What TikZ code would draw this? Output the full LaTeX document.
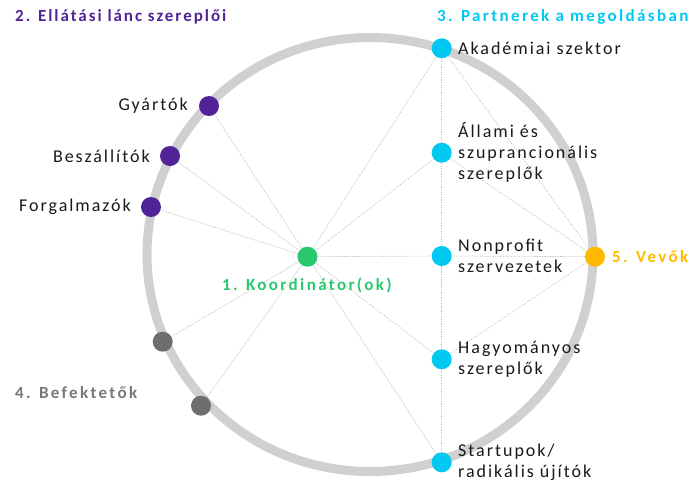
\documentclass[tikz,border=0pt]{standalone}
\usepackage{fontspec}
\setmainfont{Carlito}
\newfontfamily\labfont{Carlito}[LetterSpace=11.0]
\newfontfamily\headfont{Carlito}[LetterSpace=14.0]
\newfontfamily\headnarrow{Carlito}[LetterSpace=11.5]
\definecolor{cpurple}{RGB}{80,36,150}
\definecolor{ccyan}{RGB}{0,200,240}
\definecolor{cgreen}{RGB}{42,200,110}
\definecolor{corange}{RGB}{255,186,0}
\definecolor{cgraydot}{RGB}{110,110,110}
\definecolor{cgraytext}{RGB}{120,120,120}
\definecolor{cring}{RGB}{208,208,208}
\definecolor{cline}{RGB}{190,190,190}
\definecolor{ctext}{RGB}{25,25,25}
\begin{document}
\begin{tikzpicture}[x=1pt,y=-1pt,
  dot/.style={circle,inner sep=0pt,minimum size=20pt,draw=none},
  conn/.style={draw=cline,line width=0.65pt,dash pattern=on 1.3pt off 1.3pt},
  lab/.style={inner sep=0pt,align=left,text=ctext,font=\labfont\fontsize{18}{21}\selectfont},
  head/.style={inner sep=0pt,font=\headfont\bfseries\fontsize{17}{20}\selectfont}]
\useasboundingbox (0,0) rectangle (691,483);
\draw[line width=9pt,cring] (370,254.5) ellipse [x radius=223pt, y radius=217pt];
% dots
\node[dot,fill=cpurple] (gy) at (209,106) {};
\node[dot,fill=cpurple] (be) at (170,156) {};
\node[dot,fill=cpurple] (fo) at (151,207) {};
\node[dot,fill=cgreen] (ko) at (307.5,256.7) {};
\node[dot,fill=ccyan] (ak) at (441.7,48.3) {};
\node[dot,fill=ccyan] (al) at (441.7,152.7) {};
\node[dot,fill=ccyan] (np) at (441.7,256) {};
\node[dot,fill=ccyan] (ha) at (441.7,359.3) {};
\node[dot,fill=ccyan] (st) at (441.7,462.3) {};
\node[dot,fill=corange] (ve) at (595,256.7) {};
\node[dot,fill=cgraydot] (g1) at (162.7,341.7) {};
\node[dot,fill=cgraydot] (g2) at (201,405.7) {};
% connectors
\foreach \t in {gy,be,fo,ak,al,np,ha,st,g1,g2} \draw[conn] (ko) -- (\t);
\draw[conn] (ak) -- (al);
\draw[conn] (al) -- (np);
\draw[conn] (np) -- (ha);
\draw[conn] (ha) -- (st);
\foreach \t in {ak,al,np,ha} \draw[conn] (ve) -- (\t);
% labels
\node[lab,anchor=east] (tgy) at (188,106) {Gyártók};
\node[lab,anchor=east] (tbe) at (150,156) {Beszállítók};
\node[lab,anchor=east] (tfo) at (131,207) {Forgalmazók};
\node[lab,anchor=west] (tak) at (458,48.3) {Akadémiai szektor};
\node[lab,anchor=west] (tal) at (458,152.7) {Állami és\\szuprancionális\\szereplők};
\node[lab,anchor=west] (tnp) at (458,256) {Nonprofit\\szervezetek};
\node[lab,anchor=west] (tha) at (458,359.3) {Hagyományos\\szereplők};
\node[lab,anchor=west] (tst) at (458,462.3) {Startupok/\\radikális újítók};
% headings
\node[head,font=\headnarrow\bfseries\fontsize{17}{20}\selectfont,text=cpurple,anchor=west] (h2) at (15,17) {2. Ellátási lánc szereplői};
\node[head,text=ccyan,anchor=west] (h3) at (437,17) {3. Partnerek a megoldásban};
\node[head,text=cgreen,anchor=west] (h1) at (222,285) {1. Koordinátor(ok)};
\node[head,text=cgraytext,anchor=west] (h4) at (15,393) {4. Befektetők};
\node[head,text=corange,anchor=west] (h5) at (612,257) {5. Vevők};
\end{tikzpicture}
\end{document}
